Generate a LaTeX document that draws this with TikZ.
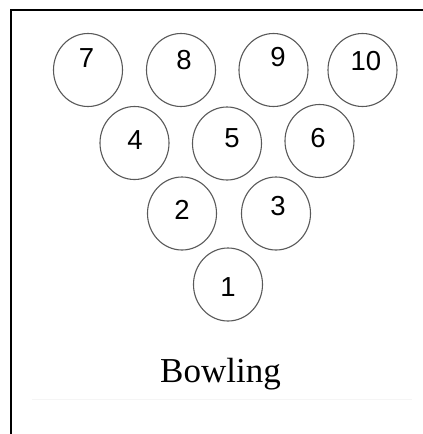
\documentclass[tikz,border=0pt]{standalone}
\usepackage{fontspec}
\setmainfont{Liberation Serif}
\newfontfamily\numfont{Liberation Sans}
\usetikzlibrary{shapes.geometric}
\begin{document}
\begin{tikzpicture}[x=1pt,y=-1pt,
  pin/.style={ellipse,draw=black!65,line width=1.1pt,minimum width=69pt,minimum height=73pt,inner sep=0pt},
  num/.style={font=\numfont\fontsize{27.5}{27.5}\selectfont,inner sep=0pt,anchor=center}]
\useasboundingbox (0,0) rectangle (423,434);
\fill[white] (0,0) rectangle (423,434);
\draw[line width=1.4pt] (11,434) -- (11,10) -- (423,10);
\draw[black!4,line width=1pt] (32,399) -- (412,399);
% pins
\node[pin] (p7) at (88,70) {};
\node[pin] (p8) at (181,70) {};
\node[pin] (p9) at (273.5,70) {};
\node[pin] (p10) at (362.5,70) {};
\node[pin] (p4) at (134.5,143) {};
\node[pin] (p5) at (227,143.5) {};
\node[pin] (p6) at (319.5,141) {};
\node[pin] (p2) at (182,213.5) {};
\node[pin] (p3) at (276,213.5) {};
\node[pin] (p1) at (228,284.5) {};
% labels
\node[num] (t7) at (86.5,58) {7};
\node[num] (t8) at (184,60) {8};
\node[num] (t9) at (278,57) {9};
\node[num] (t10) at (366,61) {10};
\node[num] (t4) at (135,140) {4};
\node[num] (t5) at (232,138) {5};
\node[num] (t6) at (318,138) {6};
\node[num] (t2) at (182,210) {2};
\node[num] (t3) at (278,206) {3};
\node[num] (t1) at (228,287) {1};
\node[font=\fontsize{35}{35}\selectfont,inner sep=0pt,anchor=base] (title) at (220.5,382) {Bowling};
\end{tikzpicture}
\end{document}
